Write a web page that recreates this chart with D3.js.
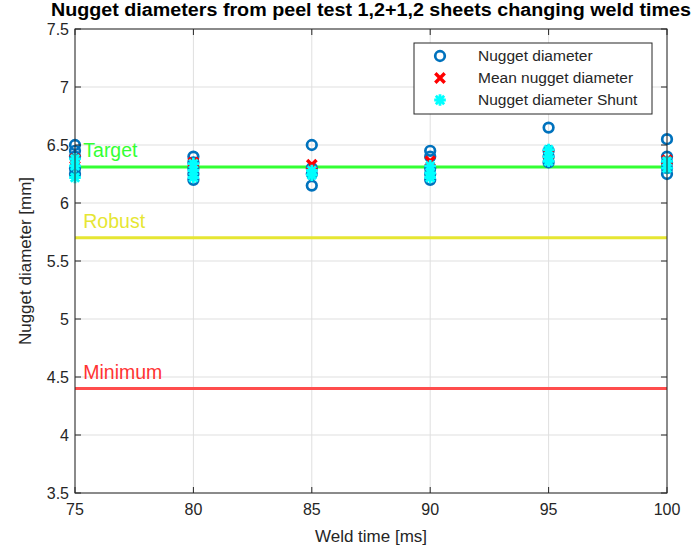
<!DOCTYPE html>
<html>
<head>
<meta charset="utf-8">
<script src="https://cdn.jsdelivr.net/npm/d3@7"></script>
<style>
  html, body { margin: 0; padding: 0; background: #fff; }
  svg { display: block; font-family: "Liberation Sans", Arial, Helvetica, sans-serif; }
</style>
</head>
<body>
<svg id="chart" width="699" height="548"></svg>
<script>
// Weld times [ms]
const weldTimes = [75, 80, 85, 90, 95, 100];

// Individual nugget diameters per weld time [mm]
const nuggetDiameters = [
  [6.50, 6.45, 6.40, 6.30, 6.25],
  [6.40, 6.35, 6.30, 6.25, 6.20],
  [6.50, 6.30, 6.25, 6.15],
  [6.45, 6.40, 6.30, 6.25, 6.20],
  [6.65, 6.45, 6.40, 6.35],
  [6.55, 6.40, 6.35, 6.30, 6.25]
];

// Mean nugget diameter per weld time [mm]
const meanDiameters = [6.38, 6.35, 6.33, 6.36, 6.42, 6.37];

// Shunt nugget diameters per weld time [mm]
const shuntDiameters = [
  [6.38, 6.32, 6.22],
  [6.34, 6.28, 6.22],
  [6.28, 6.24],
  [6.32, 6.26, 6.22],
  [6.46, 6.40, 6.36],
  [6.36, 6.30]
];

// Reference levels
const levelNames = ["Target", "Robust", "Minimum"];
const levelValues = [6.31, 5.70, 4.40];
const levelColors = ["#33ff33", "#e6e633", "#ff4d4d"];
const levelTextColors = ["#33ff33", "#e6e633", "#ff3333"];

const xTicks = [75, 80, 85, 90, 95, 100];
const yTicks = [3.5, 4, 4.5, 5, 5.5, 6, 6.5, 7, 7.5];

const legendLabels = ["Nugget diameter", "Mean nugget diameter", "Nugget diameter Shunt"];

const svg = d3.select("#chart");
const margin = { left: 75, right: 32, top: 29, bottom: 55 };
const W = 699, H = 548;
const x = d3.scaleLinear().domain([75, 100]).range([margin.left, W - margin.right]);
const y = d3.scaleLinear().domain([3.5, 7.5]).range([H - margin.bottom, margin.top]);

const axisColor = "#262626";
const gridColor = "#dfdfdf";

// Grid
const grid = svg.append("g");
grid.selectAll("line.gx").data(xTicks).join("line")
  .attr("x1", d => x(d)).attr("x2", d => x(d))
  .attr("y1", y(3.5)).attr("y2", y(7.5))
  .attr("stroke", gridColor).attr("stroke-width", 1);
grid.selectAll("line.gy").data(yTicks).join("line")
  .attr("x1", x(75)).attr("x2", x(100))
  .attr("y1", d => y(d)).attr("y2", d => y(d))
  .attr("stroke", gridColor).attr("stroke-width", 1);

// Reference lines and labels
const lv = svg.append("g");
levelValues.forEach((v, i) => {
  lv.append("line")
    .attr("x1", x(75)).attr("x2", x(100))
    .attr("y1", y(v)).attr("y2", y(v))
    .attr("stroke", levelColors[i]).attr("stroke-width", 3);
  lv.append("text")
    .attr("x", x(75.35)).attr("y", y(v) - 10)
    .attr("fill", levelTextColors[i])
    .attr("font-size", 19.5)
    .text(levelNames[i]);
});

// Marker shapes
const blue = "#0072bd", red = "#ff0000", cyan = "#00ffff";
function drawCircle(g, cx, cy) {
  g.append("circle").attr("cx", cx).attr("cy", cy).attr("r", 4.8)
    .attr("fill", "none").attr("stroke", blue).attr("stroke-width", 2.7);
}
function drawCross(g, cx, cy) {
  const s = 4.7;
  g.append("path")
    .attr("d", `M${cx - s},${cy - s}L${cx + s},${cy + s}M${cx - s},${cy + s}L${cx + s},${cy - s}`)
    .attr("stroke", red).attr("stroke-width", 3.4).attr("stroke-linecap", "butt");
}
function drawStar(g, cx, cy) {
  const s = 5.8, d = s * 0.72;
  g.append("path")
    .attr("d", `M${cx - s},${cy}L${cx + s},${cy}M${cx},${cy - s}L${cx},${cy + s}` +
               `M${cx - d},${cy - d}L${cx + d},${cy + d}M${cx - d},${cy + d}L${cx + d},${cy - d}`)
    .attr("stroke", cyan).attr("stroke-width", 2.8);
}

const marks = svg.append("g");
weldTimes.forEach((t, i) => {
  nuggetDiameters[i].forEach(v => drawCircle(marks, x(t), y(v)));
});
weldTimes.forEach((t, i) => drawCross(marks, x(t), y(meanDiameters[i])));
weldTimes.forEach((t, i) => {
  shuntDiameters[i].forEach(v => drawStar(marks, x(t), y(v)));
});

// Axes box
const ax = svg.append("g");
ax.append("rect")
  .attr("x", x(75)).attr("y", y(7.5))
  .attr("width", x(100) - x(75)).attr("height", y(3.5) - y(7.5))
  .attr("fill", "none").attr("stroke", axisColor).attr("stroke-width", 1);

// Inward ticks on all four sides
const tl = 6;
ax.selectAll("line.tx").data(xTicks).join("line")
  .attr("x1", d => x(d)).attr("x2", d => x(d))
  .attr("y1", y(3.5)).attr("y2", y(3.5) - tl).attr("stroke", axisColor);
ax.selectAll("line.tx2").data(xTicks).join("line")
  .attr("x1", d => x(d)).attr("x2", d => x(d))
  .attr("y1", y(7.5)).attr("y2", y(7.5) + tl).attr("stroke", axisColor);
ax.selectAll("line.ty").data(yTicks).join("line")
  .attr("x1", x(75)).attr("x2", x(75) + tl)
  .attr("y1", d => y(d)).attr("y2", d => y(d)).attr("stroke", axisColor);
ax.selectAll("line.ty2").data(yTicks).join("line")
  .attr("x1", x(100)).attr("x2", x(100) - tl)
  .attr("y1", d => y(d)).attr("y2", d => y(d)).attr("stroke", axisColor);

// Tick labels
ax.selectAll("text.xl").data(xTicks).join("text")
  .attr("x", d => x(d)).attr("y", y(3.5) + 22)
  .attr("text-anchor", "middle").attr("fill", axisColor).attr("font-size", 16)
  .text(d => d3.format("")(d));
ax.selectAll("text.yl").data(yTicks).join("text")
  .attr("x", x(75) - 6).attr("y", d => y(d) + 6)
  .attr("text-anchor", "end").attr("fill", axisColor).attr("font-size", 16)
  .text(d => d);

// Axis titles
svg.append("text")
  .attr("x", (x(75) + x(100)) / 2).attr("y", H - 6)
  .attr("text-anchor", "middle").attr("fill", axisColor).attr("font-size", 17)
  .text("Weld time [ms]");
svg.append("text")
  .attr("transform", `translate(31,${(y(3.5) + y(7.5)) / 2}) rotate(-90)`)
  .attr("text-anchor", "middle").attr("fill", axisColor).attr("font-size", 17)
  .text("Nugget diameter [mm]");

// Title
svg.append("text")
  .attr("x", (x(75) + x(100)) / 2).attr("y", 16)
  .attr("text-anchor", "middle").attr("fill", "#000").attr("font-size", 17.5)
  .attr("font-weight", "bold")
  .attr("textLength", 640).attr("lengthAdjust", "spacingAndGlyphs")
  .text("Nugget diameters from peel test 1,2+1,2 sheets changing weld times");

// Legend
const lg = svg.append("g").attr("transform", "translate(414,43)");
lg.append("rect").attr("width", 238).attr("height", 71)
  .attr("fill", "#fff").attr("stroke", axisColor).attr("stroke-width", 1);
const lgMarkers = [drawCircle, drawCross, drawStar];
legendLabels.forEach((lab, i) => {
  const cy = 13 + i * 22;
  lgMarkers[i](lg, 26, cy);
  lg.append("text").attr("x", 64).attr("y", cy + 5)
    .attr("fill", axisColor).attr("font-size", 15.5).text(lab);
});
</script>
</body>
</html>
